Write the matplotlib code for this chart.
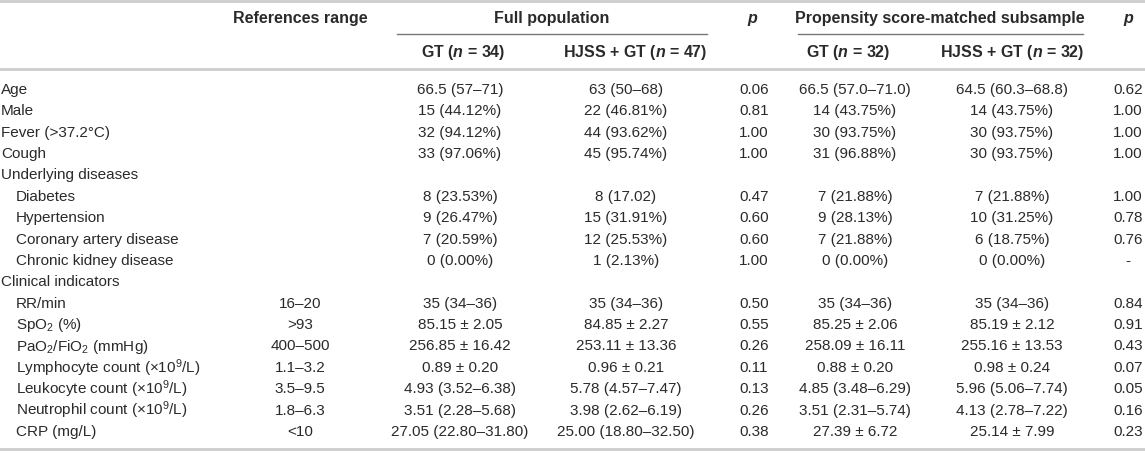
import matplotlib
matplotlib.use("Agg")
import matplotlib.pyplot as plt

plt.rcParams['font.family'] = ['Liberation Sans', 'DejaVu Sans']
plt.rcParams['mathtext.fontset'] = 'custom'
plt.rcParams['mathtext.rm'] = 'Liberation Sans'
plt.rcParams['mathtext.it'] = 'Liberation Sans:italic'
plt.rcParams['mathtext.bf'] = 'Liberation Sans:bold'
plt.rcParams['mathtext.bfit'] = 'Liberation Sans:italic:bold'

# table content
groups = ["Full population", "Propensity score-matched subsample"]
col_heads = [r"GT ($\mathbfit{n}$ = 34)", r"HJSS + GT ($\mathbfit{n}$ = 47)",
             r"GT ($\mathbfit{n}$ = 32)", r"HJSS + GT ($\mathbfit{n}$ = 32)"]

labels = ["Age", "Male", "Fever (>37.2°C)", "Cough", "Underlying diseases",
          "Diabetes", "Hypertension", "Coronary artery disease", "Chronic kidney disease",
          "Clinical indicators", "RR/min", "SpO$_2$ (%)", "PaO$_2$/FiO$_2$ (mmHg)",
          "Lymphocyte count (×10$^9$/L)", "Leukocyte count (×10$^9$/L)",
          "Neutrophil count (×10$^9$/L)", "CRP (mg/L)"]
indent = [0, 0, 0, 0, 0, 1, 1, 1, 1, 0, 1, 1, 1, 1, 1, 1, 1]
ref_range = ["", "", "", "", "", "", "", "", "", "",
             "16–20", ">93", "400–500", "1.1–3.2", "3.5–9.5", "1.8–6.3", "<10"]
full_gt = ["66.5 (57–71)", "15 (44.12%)", "32 (94.12%)", "33 (97.06%)", "",
           "8 (23.53%)", "9 (26.47%)", "7 (20.59%)", "0 (0.00%)", "",
           "35 (34–36)", "85.15 ± 2.05", "256.85 ± 16.42", "0.89 ± 0.20",
           "4.93 (3.52–6.38)", "3.51 (2.28–5.68)", "27.05 (22.80–31.80)"]
full_hjss = ["63 (50–68)", "22 (46.81%)", "44 (93.62%)", "45 (95.74%)", "",
             "8 (17.02)", "15 (31.91%)", "12 (25.53%)", "1 (2.13%)", "",
             "35 (34–36)", "84.85 ± 2.27", "253.11 ± 13.36", "0.96 ± 0.21",
             "5.78 (4.57–7.47)", "3.98 (2.62–6.19)", "25.00 (18.80–32.50)"]
full_p = ["0.06", "0.81", "1.00", "1.00", "", "0.47", "0.60", "0.60", "1.00", "",
          "0.50", "0.55", "0.26", "0.11", "0.13", "0.26", "0.38"]
psm_gt = ["66.5 (57.0–71.0)", "14 (43.75%)", "30 (93.75%)", "31 (96.88%)", "",
          "7 (21.88%)", "9 (28.13%)", "7 (21.88%)", "0 (0.00%)", "",
          "35 (34–36)", "85.25 ± 2.06", "258.09 ± 16.11", "0.88 ± 0.20",
          "4.85 (3.48–6.29)", "3.51 (2.31–5.74)", "27.39 ± 6.72"]
psm_hjss = ["64.5 (60.3–68.8)", "14 (43.75%)", "30 (93.75%)", "30 (93.75%)", "",
            "7 (21.88%)", "10 (31.25%)", "6 (18.75%)", "0 (0.00%)", "",
            "35 (34–36)", "85.19 ± 2.12", "255.16 ± 13.53", "0.98 ± 0.24",
            "5.96 (5.06–7.74)", "4.13 (2.78–7.22)", "25.14 ± 7.99"]
psm_p = ["0.62", "1.00", "1.00", "1.00", "", "1.00", "0.78", "0.76", "-", "",
         "0.84", "0.91", "0.43", "0.07", "0.05", "0.16", "0.23"]

W, H = 1145, 453
fig = plt.figure(figsize=(W / 100, H / 100), dpi=100)
ax = fig.add_axes([0, 0, 1, 1])
ax.set_xlim(0, W)
ax.set_ylim(H, 0)
ax.axis('off')

txt = '#2a2a2a'
fs = 11
fsh = 11.5
light = '#cccccc'

# rules
ax.plot([0, W], [1, 1], color=light, lw=2)
ax.plot([0, W], [69, 69], color=light, lw=2)
ax.plot([0, W], [449, 449], color=light, lw=2)
ax.plot([397, 707], [34, 34], color='#777777', lw=1)
ax.plot([798, 1083], [34, 34], color='#777777', lw=1)

# header
y1, y2 = 19, 53
ax.text(300, y1, "References range", ha='center', va='center', fontsize=fsh, fontweight='bold', color=txt)
ax.text(552, y1, groups[0], ha='center', va='center', fontsize=fsh, fontweight='bold', color=txt)
ax.text(940, y1, groups[1], ha='center', va='center', fontsize=fsh, fontweight='bold', color=txt)
ax.text(752, y1, "p", ha='center', va='center', fontsize=fsh, fontweight='bold', style='italic', color=txt)
ax.text(1128, y1, "p", ha='center', va='center', fontsize=fsh, fontweight='bold', style='italic', color=txt)

head_x = [463, 635, 848, 1012]
for x, h in zip(head_x, col_heads):
    ax.text(x, y2, h, ha='center', va='center', fontsize=fsh, fontweight='bold', color=txt)

# body
cols = [(300, ref_range), (460, full_gt), (626, full_hjss), (754, full_p),
        (855, psm_gt), (1012, psm_hjss), (1128, psm_p)]
for i, lab in enumerate(labels):
    y = 90 + i * 21.375
    ax.text(1 + 15 * indent[i], y, lab, ha='left', va='center', fontsize=fs, color=txt)
    for x, vals in cols:
        if vals[i]:
            ax.text(x, y, vals[i], ha='center', va='center', fontsize=fs, color=txt)

fig.savefig('out.png', dpi=100)
